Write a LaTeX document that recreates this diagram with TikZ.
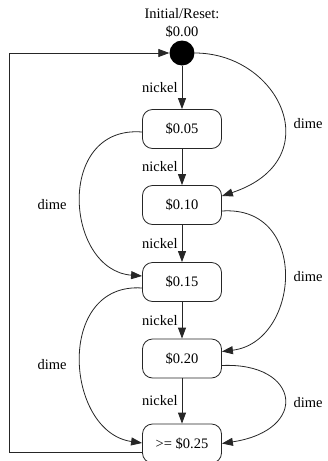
\documentclass[tikz,border=0pt]{standalone}
\usepackage{fontspec}
\setmainfont{Liberation Serif}
\usetikzlibrary{arrows.meta,calc}
\begin{document}
\begin{tikzpicture}[x=1pt,y=-1pt,
  txt/.style={font=\fontsize{14.5}{18}\selectfont, inner sep=1pt},
  state/.style={txt, draw=black!85, line width=0.8pt, rounded corners=10pt,
                minimum width=79pt, minimum height=39pt},
  edge/.style={draw=black!85, line width=0.8pt,
               -{Triangle[length=11pt,width=8pt]}}]
\useasboundingbox (0,0) rectangle (327,461);

% states
\node[circle, fill=black, minimum size=25pt, inner sep=0pt] (init) at (182,53) {};
\node[txt, align=center] (initlbl) at (182,23) {Initial/Reset:\\\$0.00};
\node[state] (s05) at (182,129)   {\$0.05};
\node[state] (s10) at (182,205)   {\$0.10};
\node[state] (s15) at (182,282)   {\$0.15};
\node[state] (s20) at (182,358.5) {\$0.20};
\node[state] (s25) at (182,443.5) {>= \$0.25};

% nickel transitions
\draw[edge] (init) -- node[txt, left=3pt] {nickel} (s05);
\draw[edge] (s05) -- node[txt, left=3pt] {nickel} (s10);
\draw[edge] (s10) -- node[txt, left=3pt] {nickel} (s15);
\draw[edge] (s15) -- node[txt, left=3pt] {nickel} (s20);
\draw[edge] (s20) -- node[txt, left=3pt] {nickel} (s25);

% dime transitions
\draw[edge] (init.east) .. controls (280,53) and (330,160) .. ($(s10.east)+(0,-9)$);
\draw[edge] ($(s05.west)+(0,3)$) .. controls (55,125) and (65,270) .. ($(s15.west)+(0,-6)$);
\draw[edge] ($(s10.east)+(0,6)$) .. controls (310,205) and (300,342) .. ($(s20.east)+(0,-7)$);
\draw[edge] ($(s15.west)+(0,6)$) .. controls (55,282) and (65,432) .. ($(s25.west)+(0,-0.5)$);
\draw[edge] ($(s20.east)+(0,7)$) .. controls (300,362) and (310,430) .. ($(s25.east)+(0,0)$);

\node[txt] (d1) at (308,124) {dime};
\node[txt] (d2) at (52,205)  {dime};
\node[txt] (d3) at (308,277) {dime};
\node[txt] (d4) at (52,365)  {dime};
\node[txt] (d5) at (308,403) {dime};

% reset loop
\coordinate (rbot) at (9,452);
\coordinate (rtop) at (9,53);
\draw[edge] ($(s25.west)+(0,8.5)$) -- (rbot) -- (rtop) -- (init.west);
\end{tikzpicture}
\end{document}
